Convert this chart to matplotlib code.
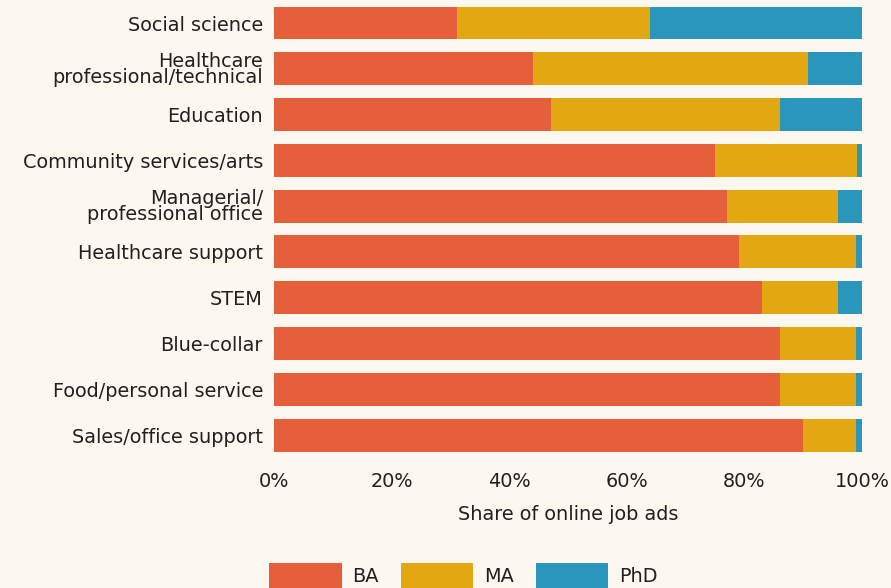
import matplotlib
matplotlib.use("Agg")
import matplotlib.pyplot as plt
from matplotlib.patches import Patch

categories = ["Social science", "Healthcare\nprofessional/technical", "Education",
              "Community services/arts", "Managerial/\nprofessional office",
              "Healthcare support", "STEM", "Blue-collar", "Food/personal service",
              "Sales/office support"]
ba = [31.1, 44.0, 47.1, 75.0, 77.0, 79.0, 83.0, 86.0, 86.0, 89.9]
ma = [32.8, 46.9, 38.9, 24.1, 19.0, 19.9, 13.0, 12.9, 12.9, 9.0]
phd = [36.1, 9.1, 14.0, 0.9, 4.0, 1.1, 4.0, 1.1, 1.1, 1.1]
series_names = ["BA", "MA", "PhD"]
xticks = [0, 20, 40, 60, 80, 100]
xticklabels = ["0%", "20%", "40%", "60%", "80%", "100%"]

colors = ["#E5603A", "#E3A712", "#2A96BC"]
bg = "#FCF8F0"
txt = "#231F20"
plt.rcParams['font.family'] = ['DejaVu Sans']
fs = 13.9

fig = plt.figure(figsize=(8.91, 5.88), dpi=100, facecolor=bg)
ax = fig.add_axes([274/891, 1 - 458/588, 588/891, 458/588 - 0.0002])
ax.set_facecolor(bg)

y = list(range(len(categories)))
left = [0]*len(categories)
for vals, c in zip([ba, ma, phd], colors):
    ax.barh(y, vals, left=left, height=0.72, color=c, linewidth=0)
    left = [l + v for l, v in zip(left, vals)]

ax.set_ylim(len(categories) - 0.5, -0.5)
ax.set_xlim(0, 100)
ax.set_yticks(y)
ax.set_yticklabels(categories, fontsize=fs, color=txt, linespacing=0.82)
ax.set_xticks(xticks)
ax.set_xticklabels(xticklabels, fontsize=fs, color=txt)
ax.tick_params(length=0, pad=8)
ax.tick_params(axis='x', pad=10)
for s in ax.spines.values():
    s.set_visible(False)
ax.set_xlabel("Share of online job ads", fontsize=fs, color=txt, labelpad=10)

handles = [Patch(facecolor=c, edgecolor='none', label=n) for c, n in zip(colors, series_names)]
fig.legend(handles=handles, loc='lower left', bbox_to_anchor=(252/891, -0.03), ncol=3,
           frameon=False, fontsize=fs, handlelength=3.75, handleheight=1.6,
           handletextpad=0.55, columnspacing=1.15, labelcolor=txt)

fig.savefig("out.png", dpi=100, facecolor=bg)
